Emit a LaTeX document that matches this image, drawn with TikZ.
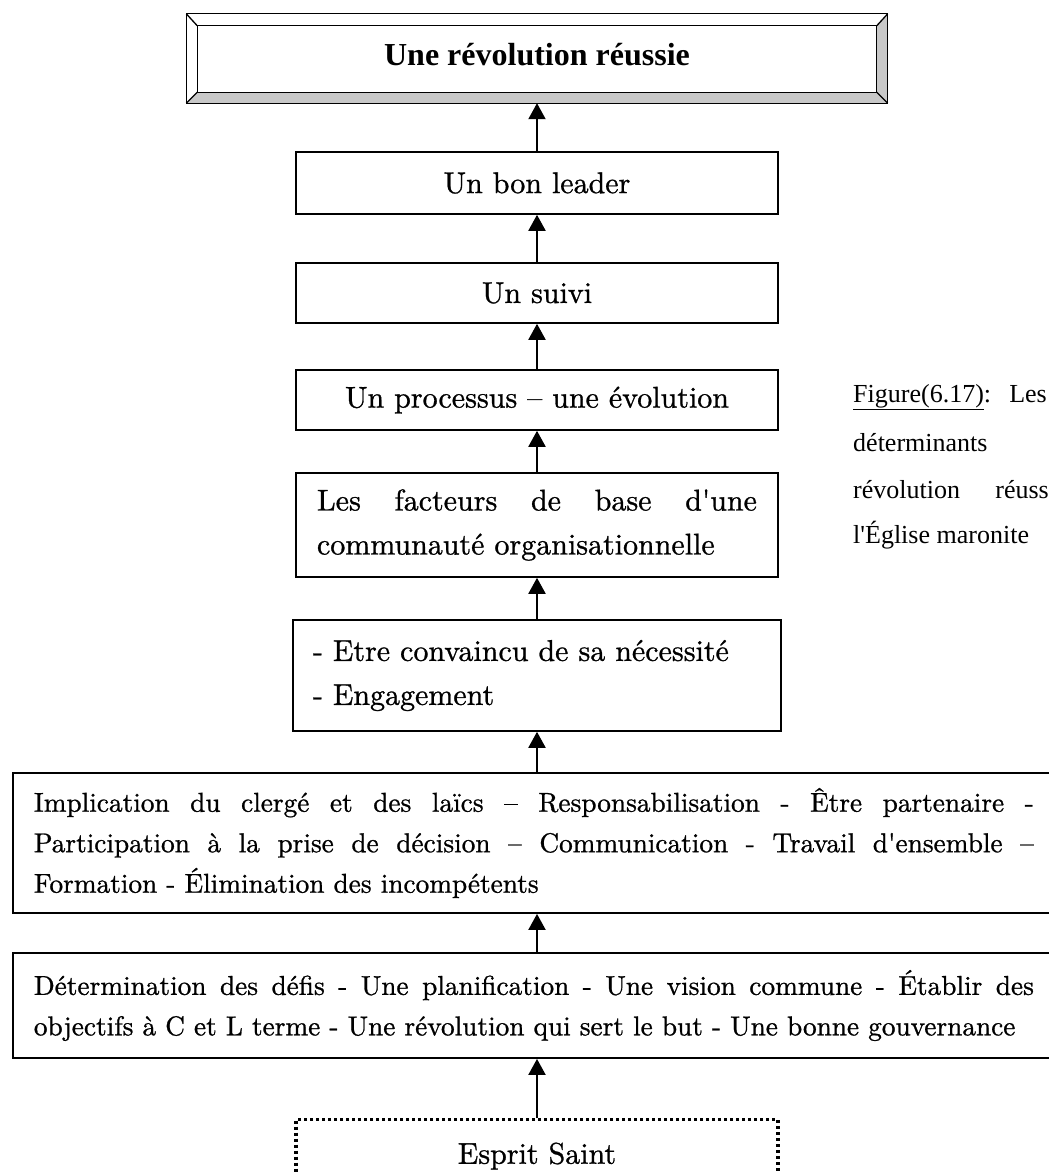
\documentclass[tikz,border=0pt]{standalone}
\usepackage{fontspec}
\newfontfamily\capfont{Liberation Serif}
\newfontfamily\lmten{lmroman10-regular}[Extension=.otf, RawFeature={embolden=0.9}]
\usetikzlibrary{arrows.meta,calc}
\definecolor{bevelgray}{RGB}{200,200,200}
\newcommand\jline[2]{\leavevmode\hbox to #1{\spaceskip=\fontdimen2\font plus 1fill\relax\xspaceskip=\spaceskip #2}}
\tikzset{
  box/.style={draw, line width=1.6pt, inner sep=0pt, minimum width=482pt, align=center, font=\lmten\fontsize{30}{44}\selectfont},
  bigbox/.style={draw, line width=1.8pt, inner xsep=21pt, inner ysep=0pt, text width=1000pt, align=left, anchor=west, font=\lmten\fontsize{27.3}{40.5}\selectfont},
  arr/.style={line width=2pt, -{Triangle[width=17pt,length=16pt]}},
  captxt/.style={font=\capfont\fontsize{26}{30}\selectfont, inner sep=0pt},
  bevel/.style={line width=1.3pt},
}
\begin{document}
\begin{tikzpicture}[x=1pt,y=-1pt]
\useasboundingbox (0,0) rectangle (1049,1173);

% top bevelled box
\node[minimum width=701pt, minimum height=89pt, inner sep=0pt, text depth=9pt, font=\capfont\bfseries\fontsize{32}{38}\selectfont] (top) at (537,58.5) {Une révolution réussie};
\coordinate (iNW) at ($(top.north west)+(11,12)$);
\coordinate (iSE) at ($(top.south east)+(-11,-11)$);
\coordinate (iNE) at (iSE |- iNW);
\coordinate (iSW) at (iNW |- iSE);
\fill[bevelgray] (top.south west) -- (top.south east) -- (iSE) -- (iSW) -- cycle;
\fill[bevelgray] (top.north east) -- (top.south east) -- (iSE) -- (iNE) -- cycle;
\draw[bevel] (top.north west) rectangle (top.south east);
\draw[bevel] (iNW) rectangle (iSE);
\draw[bevel] (top.north west) -- (iNW) (top.north east) -- (iNE) (top.south west) -- (iSW) (top.south east) -- (iSE);

% chain of boxes
\node[box, minimum height=62pt] (leader) at (537,183) {Un bon leader};
\node[box, minimum height=60pt] (suivi) at (537,293) {Un suivi};
\node[box, minimum height=60pt] (proc) at (537,400) {Un processus – une évolution};
\node[box, minimum height=104pt, text width=440pt, align=left, inner xsep=21pt] (fact) at (537,525)
  {\jline{440pt}{Les facteurs de base d'une}\\communauté organisationnelle};
\node[box, minimum width=488pt, minimum height=111pt, text width=448pt, align=left, inner xsep=20pt] (etre) at (537,675.5)
  {- Etre convaincu de sa nécessité\\- Engagement};

\node[bigbox, minimum height=140pt] (impl) at (12,843)
  {\jline{1000pt}{Implication du clergé et des laïcs – Responsabilisation - Être partenaire -}\\
   \jline{1000pt}{Participation à la prise de décision – Communication - Travail d'ensemble –}\\
   Formation - Élimination des incompétents};
\node[bigbox, minimum height=105pt] (det) at (12,1005.5)
  {\jline{1000pt}{Détermination des défis - Une planification - Une vision commune - Établir des}\\
   objectifs à C et L terme - Une révolution qui sert le but - Une bonne gouvernance};

\node[draw, line width=3.2pt, dash pattern=on 3pt off 3pt, minimum width=482pt, minimum height=73pt, anchor=north, font=\lmten\fontsize{30}{36}\selectfont] (esprit) at (537,1118) {Esprit Saint};

% arrows
\draw[arr] (leader.north) -- (top.south);
\draw[arr] (suivi.north) -- (leader.south);
\draw[arr] (proc.north) -- (suivi.south);
\draw[arr] (fact.north) -- (proc.south);
\draw[arr] (etre.north) -- (fact.south);
\draw[arr] (etre.south |- impl.north) -- (etre.south);
\draw[arr] (etre.south |- det.north) -- (etre.south |- impl.south);
\draw[arr] (esprit.north) -- (etre.south |- det.south);

% caption
\node[captxt, anchor=base west] (c1) at (853,402) {\underline{Figure(6.17)}:};
\node[captxt, anchor=base east] (c1b) at (1047,402) {Les};
\node[captxt, anchor=base west] (c2) at (853,451) {déterminants};
\node[captxt, anchor=base west] (c3) at (853,498) {révolution};
\node[captxt, anchor=base east] (c3b) at (1049,498) {réuss};
\node[captxt, anchor=base west] (c4) at (853,543) {l'Église maronite};
\end{tikzpicture}
\end{document}
